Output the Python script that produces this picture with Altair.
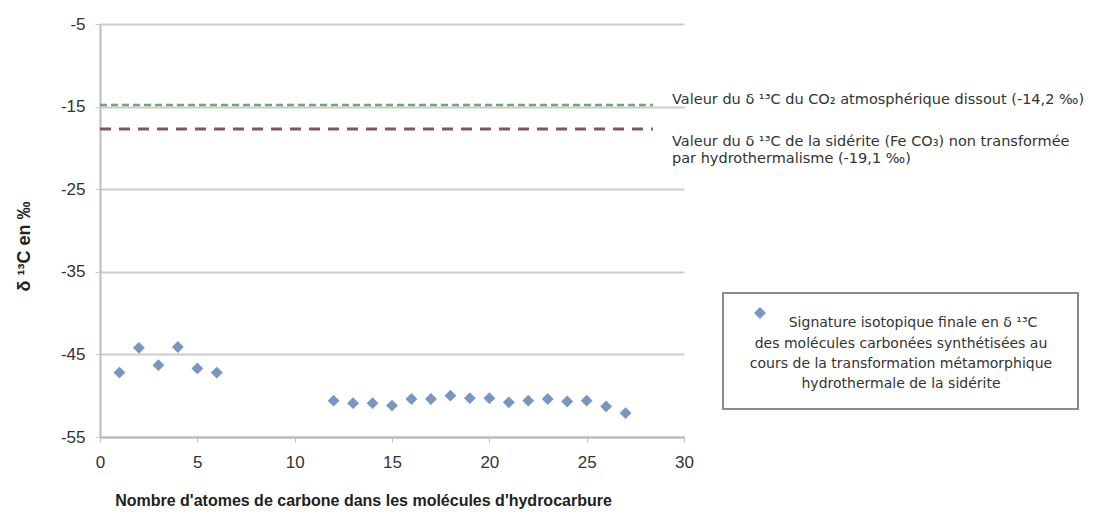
import altair as alt
import pandas as pd

# Data
carbon_atoms = [1, 2, 3, 4, 5, 6, 12, 13, 14, 15, 16, 17, 18, 19, 20, 21, 22, 23, 24, 25, 26, 27]
delta13c = [-47.2, -44.2, -46.3, -44.1, -46.7, -47.2, -50.6, -50.9, -50.9, -51.2, -50.4, -50.4,
            -50.0, -50.3, -50.3, -50.8, -50.6, -50.4, -50.7, -50.6, -51.3, -52.1]

co2_line_x = [0, 28.4]
co2_line_y = [-14.8, -14.8]
siderite_line_x = [0, 28.4]
siderite_line_y = [-17.7, -17.7]

x_ticks = [0, 5, 10, 15, 20, 25, 30]
y_ticks = [-55, -45, -35, -25, -15, -5]

annot_co2 = ["Valeur du δ ¹³C du CO₂ atmosphérique dissout (-14,2 ‰)"]
annot_sid = ["Valeur du δ ¹³C de la sidérite (Fe CO₃) non transformée",
             "par hydrothermalisme (-19,1 ‰)"]
legend_first = "Signature isotopique finale en  δ ¹³C"
legend_rest = ["des molécules carbonées synthétisées au",
               "cours de la transformation métamorphique",
               "hydrothermale de la sidérite"]

FONT = "Liberation Sans"
TFONT = "DejaVu Sans"
pts = pd.DataFrame({"x": carbon_atoms, "y": delta13c})
co2 = pd.DataFrame({"x": co2_line_x, "y": co2_line_y})
sid = pd.DataFrame({"x": siderite_line_x, "y": siderite_line_y})

xscale = alt.Scale(domain=[0, 30], nice=False)
yscale = alt.Scale(domain=[-55, -5], nice=False)

xaxis = alt.Axis(values=x_ticks, grid=False, title="Nombre d'atomes de carbone dans les molécules d'hydrocarbure",
                 titleFont=FONT, titleFontSize=16, titleFontWeight="bold", titleColor="#222",
                 titleX=263, titleAnchor="middle", titlePadding=22,
                 labelFont=FONT, labelFontSize=17, labelColor="#333", labelPadding=12,
                 labelFlush=False, labelExpr="'' + datum.value",
                 tickSize=5, tickColor="#bbbbbb", domainColor="#bbbbbb", domainWidth=2)
yaxis = alt.Axis(values=y_ticks, grid=True, gridColor="#cccccc", gridWidth=2,
                 title="δ ¹³C en ‰", titleFont=FONT, titleFontSize=18, titleFontWeight="bold",
                 titleColor="#222", titleX=-76, titleY=222, titleAnchor="middle", titleAngle=270,
                 titleBaseline="middle",
                 labelFont=FONT, labelFontSize=17, labelColor="#333", labelPadding=10,
                 labelFlush=False, labelExpr="'' + datum.value",
                 tickSize=5, tickColor="#cccccc", domainColor="#bbbbbb", domainWidth=2)

points = alt.Chart(pts).mark_point(shape="diamond", filled=True, size=140, color="#7090bd", opacity=0.95).encode(
    x=alt.X("x:Q", scale=xscale, axis=xaxis),
    y=alt.Y("y:Q", scale=yscale, axis=yaxis),
)

green = alt.Chart(co2).mark_line(color="#77a377", strokeWidth=2.5, strokeDash=[7, 4]).encode(
    x=alt.X("x:Q", scale=xscale, axis=xaxis), y=alt.Y("y:Q", scale=yscale, axis=yaxis))
red = alt.Chart(sid).mark_line(color="#7d5a5a", strokeWidth=3, strokeDash=[11, 8]).encode(
    x=alt.X("x:Q", scale=xscale, axis=xaxis), y=alt.Y("y:Q", scale=yscale, axis=yaxis))

txt_style = dict(font=TFONT, fontSize=14.5, color="#333", align="left", baseline="middle")
t1 = alt.Chart(pd.DataFrame({"t": annot_co2})).mark_text(**txt_style).encode(
    text="t:N", x=alt.value(572), y=alt.value(76))
t2 = alt.Chart(pd.DataFrame({"t": [annot_sid[0]]})).mark_text(**txt_style).encode(
    text="t:N", x=alt.value(572), y=alt.value(118))
t3 = alt.Chart(pd.DataFrame({"t": [annot_sid[1]]})).mark_text(**txt_style).encode(
    text="t:N", x=alt.value(572), y=alt.value(135))

box = alt.Chart(pd.DataFrame({"a": [0]})).mark_rect(fill="white", stroke="#8c8c8c", strokeWidth=2).encode(
    x=alt.value(623), x2=alt.value(978), y=alt.value(269), y2=alt.value(385))
leg_pt = alt.Chart(pd.DataFrame({"a": [0]})).mark_point(shape="diamond", filled=True, size=140,
                                                          color="#7090bd", opacity=0.95).encode(
    x=alt.value(660), y=alt.value(289))
leg_style = dict(font=TFONT, fontSize=14, color="#333", align="center", baseline="middle")
leg_t1 = alt.Chart(pd.DataFrame({"t": [legend_first]})).mark_text(**leg_style).encode(
    text="t:N", x=alt.value(813), y=alt.value(299))
leg_t2 = alt.Chart(pd.DataFrame({"t": [legend_rest[0]]})).mark_text(**leg_style).encode(
    text="t:N", x=alt.value(801), y=alt.value(320))
leg_t3 = alt.Chart(pd.DataFrame({"t": [legend_rest[1]]})).mark_text(**leg_style).encode(
    text="t:N", x=alt.value(801), y=alt.value(340))
leg_t4 = alt.Chart(pd.DataFrame({"t": [legend_rest[2]]})).mark_text(**leg_style).encode(
    text="t:N", x=alt.value(801), y=alt.value(360))

chart = alt.layer(points, green, red, t1, t2, t3, box, leg_pt, leg_t1, leg_t2, leg_t3, leg_t4).properties(
    width=584, height=413,
    background="white",
    autosize=alt.AutoSizeParams(type="none"),
    padding={"left": 92, "top": 16, "right": 420, "bottom": 73},
).configure_view(stroke="white", strokeOpacity=0, strokeWidth=0).configure_axisX(grid=False)

chart.save("out.html", embed_options={"renderer": "svg", "actions": False})
